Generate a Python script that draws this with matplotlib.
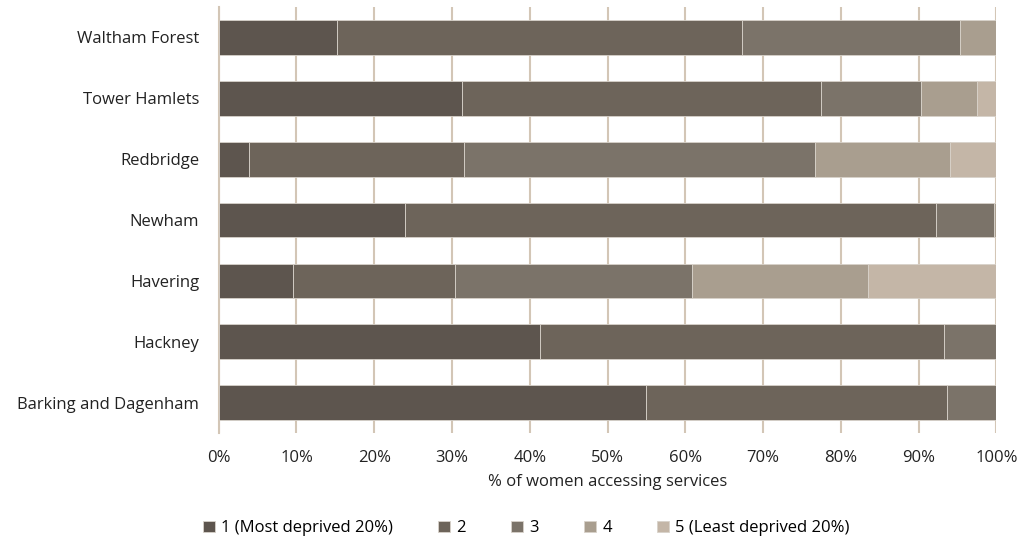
import matplotlib.pyplot as plt
import numpy as np

plt.rcParams['font.family'] = ['Open Sans', 'DejaVu Sans']

# boroughs, bottom to top
boroughs = ['Barking and Dagenham', 'Hackney', 'Havering', 'Newham',
            'Redbridge', 'Tower Hamlets', 'Waltham Forest']

# % of women in each deprivation quintile
q1 = [54.9, 41.3, 9.6, 23.9, 3.9, 31.3, 15.2]
q2 = [38.8, 52.0, 20.8, 68.3, 27.6, 46.1, 52.1]
q3 = [6.3, 6.7, 30.5, 7.5, 45.2, 12.9, 28.0]
q4 = [0.0, 0.0, 22.6, 0.3, 17.3, 7.2, 4.7]
q5 = [0.0, 0.0, 16.5, 0.0, 6.0, 2.5, 0.0]

labels = ['1 (Most deprived 20%)', '2', '3', '4', '5 (Least deprived 20%)']
colors = ['#5d554e', '#6d645a', '#7b7369', '#a99e8f', '#c4b6a7']

fig = plt.figure(figsize=(10.22, 5.42), dpi=100)
ax = fig.add_axes([0.214, 0.201, 0.761, 0.786])

y = np.arange(len(boroughs))
left = np.zeros(len(boroughs))
for vals, lab, col in zip([q1, q2, q3, q4, q5], labels, colors):
    ax.barh(y, vals, left=left, height=0.57, color=col, label=lab,
            edgecolor='#d8d2ca', linewidth=0.6, zorder=3)
    left += np.array(vals)

ax.set_xlim(0, 100)
ax.set_ylim(-0.5, 6.5)
ax.set_xticks(np.arange(0, 101, 10))
ax.set_xticklabels([f'{v}%' for v in range(0, 101, 10)])
ax.set_yticks(y)
ax.set_yticklabels(boroughs)
ax.tick_params(axis='both', length=0, labelsize=12, colors='#222222')
ax.tick_params(axis='x', pad=12)
ax.tick_params(axis='y', pad=14)

ax.grid(axis='x', color='#d3c6b6', linewidth=1.5, zorder=0)
for s in ['top', 'right', 'bottom']:
    ax.spines[s].set_visible(False)
ax.spines['left'].set_color('#d3c6b6')
ax.spines['left'].set_linewidth(1.5)

ax.set_xlabel('% of women accessing services', fontsize=12, color='#222222', labelpad=6)

fig.legend(loc='lower center', bbox_to_anchor=(0.515, -0.017), ncol=5, frameon=False,
           fontsize=12, handlelength=0.7, handleheight=0.7, handletextpad=0.4,
           columnspacing=2.7)

fig.savefig('out.png', dpi=100)
